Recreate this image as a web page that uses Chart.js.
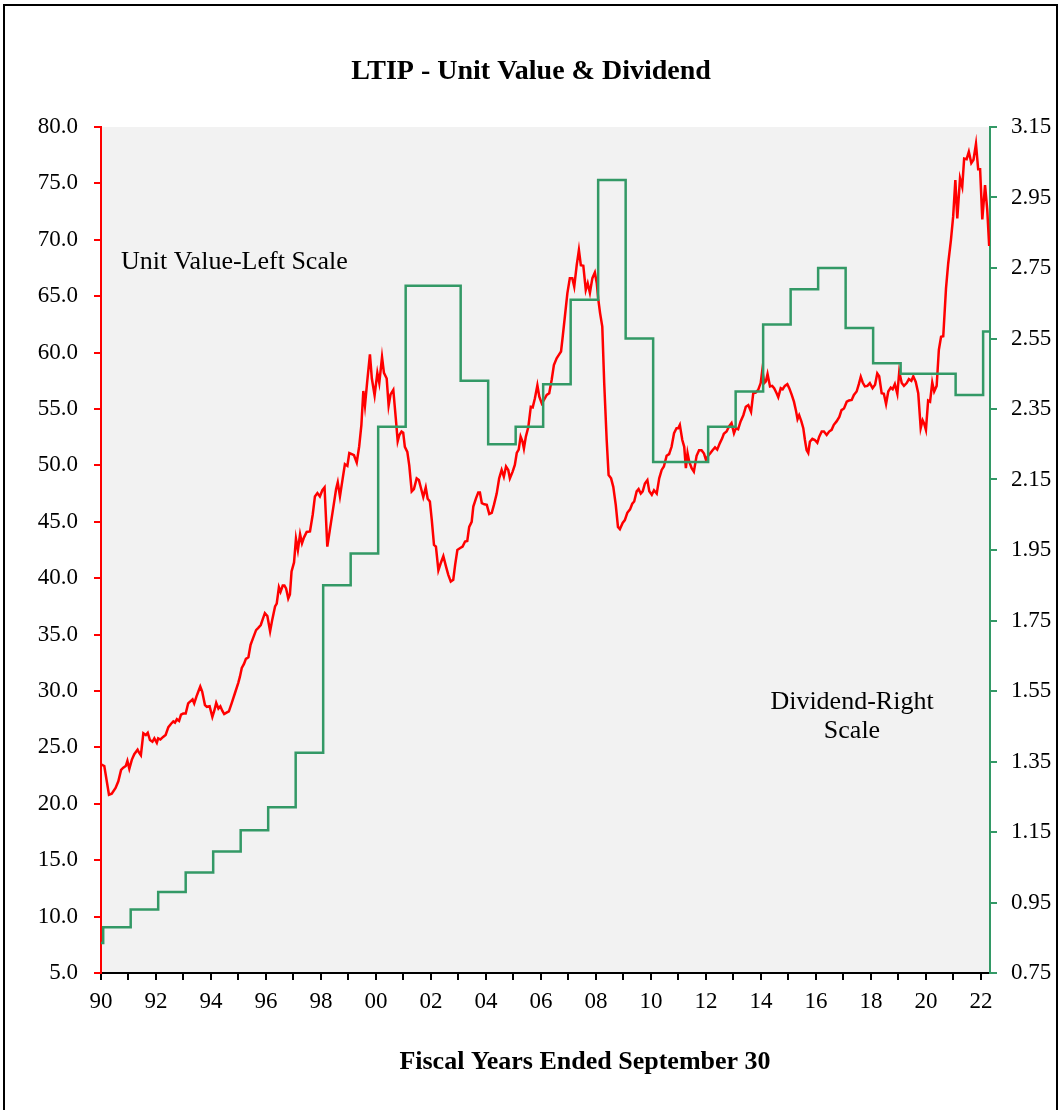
<!DOCTYPE html>
<html>
<head>
<meta charset="utf-8">
<script src="https://cdn.jsdelivr.net/npm/chart.js@4.4.1/dist/chart.umd.min.js"></script>
<style>
  body { margin: 0; background: #fff; }
  canvas { display: block; }
</style>
</head>
<body>
<canvas id="myChart" width="1060" height="1110"></canvas>
<script>
// Unit value (left scale), month by month
const unitYears = [
  1990.00, 1990.12, 1990.29, 1990.39, 1990.53, 1990.63, 1990.73, 1990.81, 1990.90, 1990.96,
  1991.03, 1991.12, 1991.21, 1991.33, 1991.38, 1991.45, 1991.54, 1991.63, 1991.70, 1991.78, 1991.87, 1991.94,
  1992.03, 1992.08, 1992.16, 1992.27, 1992.35, 1992.45, 1992.55, 1992.63, 1992.69, 1992.76, 1992.84, 1992.91, 1992.99,
  1993.08, 1993.17, 1993.26, 1993.33, 1993.39, 1993.47, 1993.54, 1993.61, 1993.68, 1993.78, 1993.85, 1993.95,
  1994.05, 1994.12, 1994.19, 1994.27, 1994.34, 1994.41, 1994.48, 1994.58, 1994.65, 1994.75, 1994.87, 1994.99,
  1995.05, 1995.12, 1995.20, 1995.27, 1995.36, 1995.44, 1995.54, 1995.64, 1995.72, 1995.81, 1995.88, 1995.96,
  1996.05, 1996.15, 1996.23, 1996.33, 1996.39, 1996.47, 1996.53, 1996.61, 1996.67, 1996.73, 1996.81, 1996.87, 1996.93,
  1997.02, 1997.09, 1997.16, 1997.24, 1997.31, 1997.38, 1997.48, 1997.60, 1997.70, 1997.78, 1997.87, 1997.96,
  1998.05, 1998.13, 1998.23, 1998.33, 1998.45, 1998.55, 1998.61, 1998.69, 1998.79, 1998.87, 1998.96,
  1999.03, 1999.12, 1999.20, 1999.30, 1999.39, 1999.47, 1999.54, 1999.60, 1999.68, 1999.78, 1999.85, 1999.95,
  2000.05, 2000.12, 2000.22, 2000.29, 2000.39, 2000.46, 2000.53, 2000.63, 2000.72, 2000.79, 2000.85, 2000.93, 2000.99,
  2001.05, 2001.14, 2001.21, 2001.30, 2001.38, 2001.48, 2001.56, 2001.64, 2001.72, 2001.81, 2001.88, 2001.96,
  2002.03, 2002.11, 2002.18, 2002.27, 2002.35, 2002.45, 2002.55, 2002.63, 2002.72, 2002.81, 2002.88, 2002.96,
  2003.05, 2003.15, 2003.24, 2003.32, 2003.39, 2003.48, 2003.54, 2003.64, 2003.72, 2003.78, 2003.85, 2003.94,
  2004.03, 2004.12, 2004.21, 2004.29, 2004.39, 2004.48, 2004.57, 2004.65, 2004.73, 2004.81, 2004.87, 2004.97,
  2005.05, 2005.12, 2005.19, 2005.26, 2005.33, 2005.38, 2005.45, 2005.54, 2005.63, 2005.70, 2005.78, 2005.87, 2005.94,
  2006.03, 2006.11, 2006.21, 2006.30, 2006.39, 2006.47, 2006.57, 2006.65, 2006.73, 2006.79, 2006.87, 2006.96,
  2007.05, 2007.14, 2007.21, 2007.30, 2007.38, 2007.45, 2007.54, 2007.63, 2007.70, 2007.78, 2007.87, 2007.96,
  2008.03, 2008.08, 2008.15, 2008.23, 2008.30, 2008.39, 2008.46, 2008.55, 2008.63, 2008.72, 2008.80, 2008.87, 2008.97,
  2009.05, 2009.14, 2009.24, 2009.32, 2009.39, 2009.48, 2009.55, 2009.63, 2009.70, 2009.78, 2009.87, 2009.94,
  2010.03, 2010.11, 2010.21, 2010.30, 2010.39, 2010.47, 2010.57, 2010.66, 2010.75, 2010.84, 2010.93, 2010.99,
  2011.05, 2011.14, 2011.21, 2011.27, 2011.33, 2011.39, 2011.48, 2011.56, 2011.66, 2011.75, 2011.84, 2011.93,
  2012.00, 2012.08, 2012.15, 2012.24, 2012.33, 2012.41, 2012.51, 2012.59, 2012.65, 2012.75, 2012.84, 2012.93,
  2013.02, 2013.09, 2013.17, 2013.26, 2013.36, 2013.45, 2013.54, 2013.64, 2013.72, 2013.81, 2013.90, 2013.99,
  2014.05, 2014.12, 2014.18, 2014.24, 2014.33, 2014.41, 2014.48, 2014.57, 2014.63, 2014.72, 2014.79, 2014.87, 2014.96,
  2015.03, 2015.12, 2015.20, 2015.27, 2015.33, 2015.39, 2015.47, 2015.54, 2015.60, 2015.66, 2015.72, 2015.78, 2015.87, 2015.96,
  2016.05, 2016.12, 2016.21, 2016.29, 2016.39, 2016.48, 2016.57, 2016.65, 2016.75, 2016.85, 2016.93,
  2017.02, 2017.12, 2017.20, 2017.30, 2017.38, 2017.48, 2017.56, 2017.63, 2017.70, 2017.78, 2017.87, 2017.96,
  2018.06, 2018.15, 2018.23, 2018.30, 2018.39, 2018.47, 2018.55, 2018.63, 2018.72, 2018.79, 2018.87, 2018.96,
  2019.03, 2019.12, 2019.20, 2019.30, 2019.38, 2019.47, 2019.54, 2019.63, 2019.72, 2019.81, 2019.88, 2019.93,
  2020.00, 2020.08, 2020.15, 2020.23, 2020.30, 2020.39, 2020.47, 2020.55, 2020.63, 2020.73, 2020.81, 2020.91, 2020.99,
  2021.07, 2021.14, 2021.24, 2021.32, 2021.39, 2021.48, 2021.56, 2021.65, 2021.73, 2021.82, 2021.90, 2021.97,
  2022.05, 2022.15, 2022.23, 2022.30
];
const unitValues = [
  23.5, 23.35, 20.8, 20.9, 21.4, 22.0, 23.0, 23.2, 23.35, 23.8,
  23.1, 23.9, 24.4, 24.8, 24.55, 24.3, 26.25, 26.1, 26.3, 25.65, 25.5, 25.8,
  25.4, 25.8, 25.7, 25.95, 26.1, 26.8, 27.1, 27.3, 27.2, 27.5, 27.35, 27.9, 28.0,
  28.0, 28.9, 29.1, 29.25, 28.9, 29.5, 29.95, 30.4, 29.95, 28.75, 28.6, 28.65,
  27.7, 28.25, 28.95, 28.45, 28.65, 28.25, 27.95, 28.1, 28.2, 28.9, 29.8, 30.7,
  31.25, 32.05, 32.4, 32.85, 33.0, 34.1, 34.75, 35.4, 35.6, 35.85, 36.35, 36.9,
  36.65, 35.3, 36.35, 37.5, 37.75, 39.2, 38.8, 39.35, 39.35, 39.1, 38.2, 38.55, 40.6,
  41.4, 43.5, 42.5, 43.9, 43.1, 43.6, 44.1, 44.15, 45.65, 47.25, 47.55, 47.25,
  47.8, 48.05, 42.8, 44.4, 46.3, 47.9, 48.5, 47.25, 48.85, 50.1, 49.95,
  51.1, 51.0, 50.9, 50.25, 51.7, 53.6, 56.6, 55.3, 57.4, 59.85, 57.7, 56.2,
  58.2, 57.3, 59.6, 58.2, 57.7, 55.3, 56.3, 56.7, 54.2, 52.15, 52.7, 53.0, 52.9,
  51.65, 51.2, 50.0, 47.7, 47.9, 48.85, 48.7, 47.95, 47.2, 48.05, 47.05, 46.8,
  45.15, 42.95, 42.8, 40.7, 41.3, 41.95, 41.0, 40.3, 39.7, 39.85, 41.2, 42.5,
  42.65, 42.8, 43.25, 43.3, 44.55, 45.0, 46.35, 47.1, 47.6, 47.6, 46.65, 46.55,
  46.5, 45.7, 45.8, 46.5, 47.5, 48.85, 49.6, 49.0, 49.9, 49.6, 48.85, 49.45,
  50.05, 51.1, 51.4, 52.55, 52.1, 51.5, 52.55, 53.4, 55.2, 55.15, 55.95, 57.1, 56.1,
  55.5, 55.8, 56.25, 56.4, 57.6, 58.9, 59.5, 59.8, 60.1, 61.4, 63.2, 65.25,
  66.6, 66.6, 65.85, 67.75, 69.1, 67.75, 67.7, 65.55, 66.15, 65.3, 66.6, 67.1,
  66.15, 64.8, 63.5, 62.3, 57.3, 52.25, 49.15, 48.85, 48.1, 46.5, 44.55, 44.35, 44.9,
  45.15, 45.8, 46.1, 46.6, 46.8, 47.7, 47.9, 47.5, 47.7, 48.4, 48.7, 47.7,
  47.4, 47.8, 47.5, 48.85, 49.6, 49.9, 50.85, 51.0, 51.65, 52.85, 53.3, 53.3,
  53.6, 52.25, 51.65, 49.75, 51.1, 50.35, 49.75, 49.45, 50.85, 51.35, 51.35, 51.05,
  50.5, 50.85, 51.05, 51.35, 51.6, 51.4, 52.0, 52.4, 52.8, 53.0, 53.45, 53.75,
  52.85, 53.3, 53.2, 53.9, 54.45, 55.2, 55.35, 54.75, 56.4, 56.45, 56.7, 57.3,
  58.45, 57.3, 57.45, 58.1, 57.0, 57.05, 56.85, 56.4, 56.05, 56.85, 56.75, 57.05, 57.2,
  56.85, 56.25, 55.65, 54.9, 54.1, 54.45, 53.9, 53.3, 52.25, 51.35, 51.1, 52.1, 52.35, 52.25,
  52.0, 52.55, 53.0, 53.0, 52.7, 53.0, 53.15, 53.6, 53.9, 54.3, 54.9,
  55.05, 55.65, 55.75, 55.8, 56.25, 56.55, 57.2, 57.85, 57.35, 57.0, 57.05, 57.3,
  56.85, 57.15, 58.15, 57.9, 56.4, 56.35, 55.45, 56.55, 56.9, 56.75, 57.2, 56.35,
  58.3, 57.3, 57.05, 57.3, 57.65, 57.5, 57.9, 57.4, 56.4, 53.3, 54.0, 53.75,
  53.15, 55.75, 55.65, 57.35, 56.55, 57.05, 60.25, 61.4, 61.45, 65.7, 67.9, 70.0, 72.05,
  75.3, 71.9, 75.45, 74.7, 77.2, 77.15, 77.8, 76.8, 77.1, 78.5, 76.25, 76.25,
  71.8, 74.85, 72.65, 69.45
];

// Dividend (right scale): date each new rate starts, and the rate
const divYears = [1990.00, 1990.08, 1991.08, 1992.08, 1993.08, 1994.08, 1995.08, 1996.08, 1997.08,
  1998.08, 1999.08, 2000.08, 2001.08, 2003.08, 2004.08, 2005.08, 2006.08, 2007.08, 2008.08,
  2009.08, 2010.08, 2012.08, 2013.08, 2014.08, 2015.08, 2016.08, 2017.08, 2018.08, 2019.08,
  2021.08, 2022.08, 2022.33];
const divValues = [0.835, 0.88, 0.93, 0.98, 1.035, 1.095, 1.155, 1.22, 1.375,
  1.85, 1.94, 2.30, 2.70, 2.43, 2.25, 2.30, 2.42, 2.66, 3.00,
  2.55, 2.20, 2.30, 2.40, 2.59, 2.69, 2.75, 2.58, 2.48, 2.45,
  2.39, 2.57, 2.57];

// tick values
const yearTicks = [];
for (let y = 1990; y <= 2022; y++) yearTicks.push(y);
const leftTicks = [5, 10, 15, 20, 25, 30, 35, 40, 45, 50, 55, 60, 65, 70, 75, 80];
const rightTicks = [0.75, 0.95, 1.15, 1.35, 1.55, 1.75, 1.95, 2.15, 2.35, 2.55, 2.75, 2.95, 3.15];

const serif = "'Liberation Serif', 'Times New Roman', serif";
const RED = "#ff0000";
const GREEN = "#339966";

const unitData = unitYears.map((x, i) => ({ x: x, y: unitValues[i] }));
const divData = divYears.map((x, i) => ({ x: x, y: divValues[i] }));

// background, frame and the free texts
const decorations = {
  id: "decorations",
  beforeDraw(chart) {
    const ctx = chart.ctx;
    const a = chart.chartArea;
    ctx.save();
    ctx.fillStyle = "#ffffff";
    ctx.fillRect(0, 0, chart.width, chart.height);
    ctx.fillStyle = "#f2f2f2";
    ctx.fillRect(a.left, a.top, a.right - a.left, a.bottom - a.top);
    ctx.strokeStyle = "#000000";
    ctx.lineWidth = 2;
    ctx.strokeRect(4, 5, 1053, 1120);
    ctx.restore();
  },
  afterDraw(chart) {
    const ctx = chart.ctx;
    ctx.save();
    ctx.fillStyle = "#000000";
    ctx.textBaseline = "middle";

    ctx.textAlign = "center";
    ctx.font = "bold 28px " + serif;
    ctx.fillText("LTIP - Unit Value & Dividend", 531, 72);
    ctx.font = "bold 26px " + serif;
    ctx.fillText("Fiscal Years Ended September 30", 585, 1062);

    ctx.font = "26px " + serif;
    ctx.fillText("Dividend-Right", 852, 702);
    ctx.fillText("Scale", 852, 731);

    ctx.textAlign = "left";
    ctx.fillText("Unit Value-Left Scale", 121, 262);
    ctx.restore();
  }
};

new Chart(document.getElementById("myChart").getContext("2d"), {
  type: "line",
  data: {
    datasets: [
      {
        label: "Dividend",
        data: divData,
        yAxisID: "yR",
        borderColor: GREEN,
        borderWidth: 2.5,
        pointRadius: 0,
        stepped: "before",
        order: 0
      },
      {
        label: "Unit Value",
        data: unitData,
        yAxisID: "yL",
        borderColor: RED,
        borderWidth: 2.5,
        pointRadius: 0,
        tension: 0,
        order: 1
      }
    ]
  },
  options: {
    responsive: false,
    animation: false,
    layout: { padding: { left: 0, right: 0, top: 127, bottom: 0 } },
    plugins: {
      legend: { display: false },
      title: { display: false },
      tooltip: { enabled: false }
    },
    scales: {
      x: {
        type: "linear",
        min: 1990,
        max: 2022.33,
        afterFit: (s) => { s.height = 137; },
        afterBuildTicks: (s) => { s.ticks = yearTicks.map((v) => ({ value: v })); },
        grid: { display: true, drawOnChartArea: false, drawTicks: true, tickLength: 7, color: "#000000", lineWidth: 2 },
        border: { display: true, color: "#000000", width: 2 },
        ticks: {
          autoSkip: false,
          maxRotation: 0,
          padding: 8,
          color: "#000000",
          font: { family: serif, size: 23 },
          callback: (v) => (v % 2 === 0 ? String(v).slice(2) : "")
        }
      },
      yL: {
        position: "left",
        min: 5,
        max: 80,
        afterFit: (s) => { s.width = 101; },
        afterBuildTicks: (s) => { s.ticks = leftTicks.map((v) => ({ value: v })); },
        grid: { display: true, drawOnChartArea: false, drawTicks: true, tickLength: 7, color: RED, lineWidth: 2 },
        border: { display: true, color: RED, width: 2 },
        ticks: {
          autoSkip: false,
          padding: 16,
          color: "#000000",
          font: { family: serif, size: 23 },
          callback: (v) => v.toFixed(1)
        }
      },
      yR: {
        position: "right",
        min: 0.75,
        max: 3.15,
        afterFit: (s) => { s.width = 70; },
        afterBuildTicks: (s) => { s.ticks = rightTicks.map((v) => ({ value: v })); },
        grid: { display: true, drawOnChartArea: false, drawTicks: true, tickLength: 7, color: GREEN, lineWidth: 2 },
        border: { display: true, color: GREEN, width: 2 },
        ticks: {
          autoSkip: false,
          padding: 14,
          color: "#000000",
          font: { family: serif, size: 23 },
          callback: (v) => v.toFixed(2)
        }
      }
    }
  },
  plugins: [decorations]
});
</script>
</body>
</html>
